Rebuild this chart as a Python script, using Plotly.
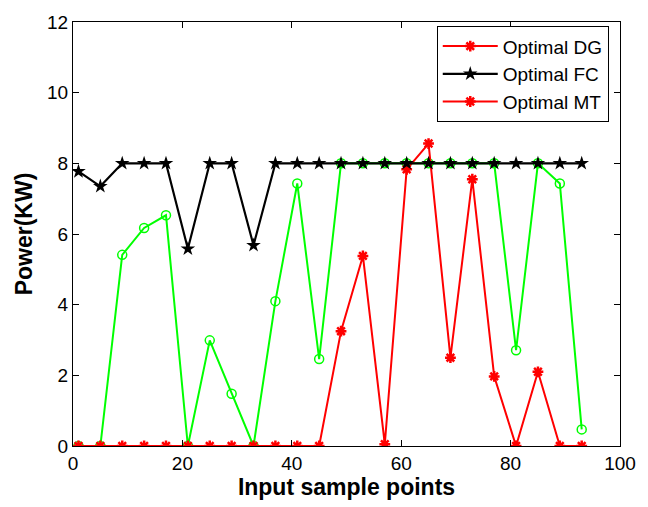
import plotly.graph_objects as go

x = [1, 5, 9, 13, 17, 21, 25, 29, 33, 37, 41, 45, 49, 53, 57, 61, 65, 69, 73, 77, 81, 85, 89, 93]
dg = [0, 0, 0, 0, 0, 0, 0, 0, 0, 0, 0, 0, 3.25, 5.38, 0.05, 7.83, 8.56, 2.5, 7.55, 1.97, 0, 2.1, 0, 0]
fc = [7.77, 7.35, 8, 8, 8, 5.58, 8, 8, 5.68, 8, 8, 8, 8, 8, 8, 8, 8, 8, 8, 8, 8, 8, 8, 8]
mt = [0, 0, 5.41, 6.17, 6.53, 0, 2.99, 1.48, 0, 4.1, 7.43, 2.46, 8, 8, 8, 8, 8, 8, 8, 8, 2.71, 8, 7.43, 0.47]

FONT = "Liberation Sans, Arial, sans-serif"

fig = go.Figure()
fig.add_trace(go.Scatter(x=x, y=mt, mode="lines+markers", name="green", showlegend=False,
                         line=dict(color="#00ff00", width=2),
                         marker=dict(symbol="circle-open", size=9, color="#00ff00", line=dict(width=1.5))))
fig.add_trace(go.Scatter(x=x, y=dg, mode="lines+markers", name="Optimal DG",
                         line=dict(color="#ff0000", width=2),
                         marker=dict(symbol="asterisk-open", size=9, color="#ff0000", line=dict(width=2.5, color="#ff0000"))))
fig.add_trace(go.Scatter(x=x, y=fc, mode="lines+markers", name="Optimal FC",
                         line=dict(color="#000000", width=2.2),
                         marker=dict(symbol="star", size=11, color="#000000")))
fig.add_trace(go.Scatter(x=[None], y=[None], mode="lines+markers", name="Optimal MT",
                         line=dict(color="#ff0000", width=2),
                         marker=dict(symbol="asterisk-open", size=9, color="#ff0000", line=dict(width=2.5, color="#ff0000"))))

axis_common = dict(showgrid=False, zeroline=False, showline=True, linecolor="black", linewidth=1,
                   mirror="ticks", ticks="inside", ticklen=6, tickcolor="black",
                   tickfont=dict(family=FONT, size=19, color="black"))

fig.update_layout(
    width=648, height=507,
    margin=dict(l=73, r=28, t=19, b=61),
    paper_bgcolor="white", plot_bgcolor="white",
    font=dict(family=FONT, color="black"),
    xaxis=dict(range=[0, 100], tickvals=[0, 20, 40, 60, 80, 100],
               title=dict(text="<b>Input sample points</b>", font=dict(family=FONT, size=23), standoff=3),
               **axis_common),
    yaxis=dict(range=[0, 12], tickvals=[0, 2, 4, 6, 8, 10, 12],
               title=dict(text="<b>Power(KW)</b>", font=dict(family=FONT, size=23), standoff=8),
               **axis_common),
    legend=dict(x=0.665, y=0.99, xanchor="left", yanchor="top",
                bgcolor="white", bordercolor="black", borderwidth=1,
                font=dict(family=FONT, size=19), tracegroupgap=0, itemwidth=55),
)

fig.write_html("out.html")
